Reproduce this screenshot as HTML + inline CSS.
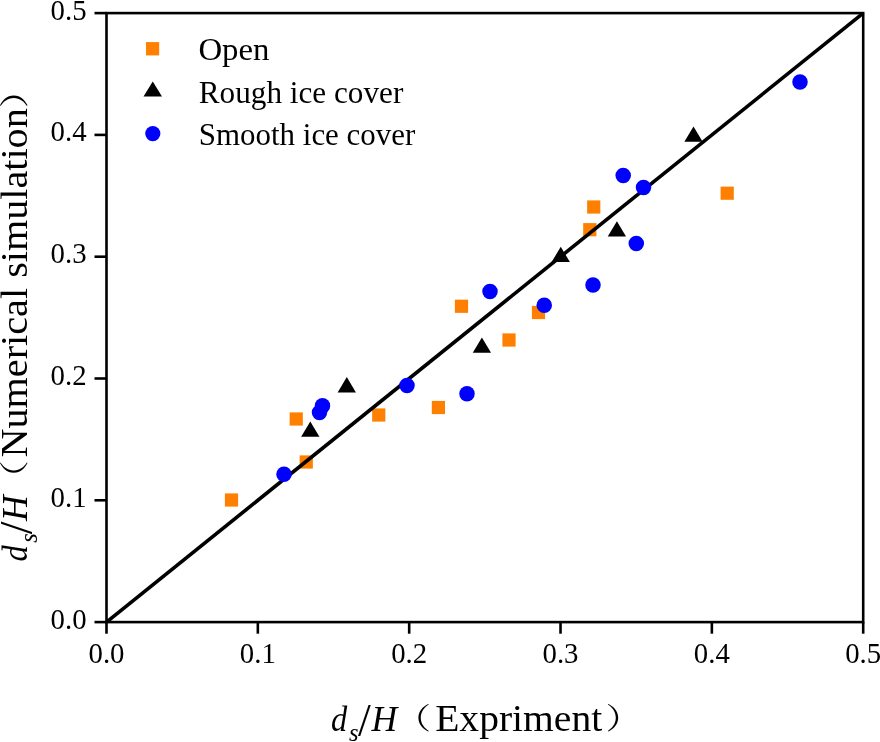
<!DOCTYPE html>
<html lang="en"><head><meta charset="utf-8"><title>Scour depth: numerical simulation vs experiment</title>
<style>
html,body{margin:0;padding:0;background:#fff;}
body{width:880px;height:742px;overflow:hidden;}
svg{display:block;}
.t{font-family:"Liberation Serif","Noto Serif CJK SC",serif;fill:#000;}
.c{font-family:"Liberation Serif","Noto Serif CJK SC",serif;fill:#000;}
.i{font-style:italic;}
</style></head><body>
<svg width="880" height="742" viewBox="0 0 880 742">
<rect x="0" y="0" width="880" height="742" fill="#fff"/>
<g fill="#ff8000">
<rect x="224.90" y="493.40" width="13.2" height="13.2"/>
<rect x="289.65" y="412.40" width="13.2" height="13.2"/>
<rect x="299.65" y="455.40" width="13.2" height="13.2"/>
<rect x="372.15" y="408.40" width="13.2" height="13.2"/>
<rect x="431.80" y="400.90" width="13.2" height="13.2"/>
<rect x="454.90" y="299.65" width="13.2" height="13.2"/>
<rect x="502.40" y="333.40" width="13.2" height="13.2"/>
<rect x="531.90" y="305.90" width="13.2" height="13.2"/>
<rect x="583.20" y="223.10" width="13.2" height="13.2"/>
<rect x="587.15" y="200.40" width="13.2" height="13.2"/>
<rect x="720.60" y="186.60" width="13.2" height="13.2"/>
</g>
<g fill="#000">
<polygon points="310.30,421.45 319.45,436.75 301.15,436.75"/>
<polygon points="346.80,377.10 355.95,392.40 337.65,392.40"/>
<polygon points="481.90,337.40 491.05,352.70 472.75,352.70"/>
<polygon points="560.75,246.80 569.90,262.10 551.60,262.10"/>
<polygon points="616.90,221.30 626.05,236.60 607.75,236.60"/>
<polygon points="693.50,126.40 702.65,141.70 684.35,141.70"/>
</g>
<line x1="106.5" y1="622.1" x2="863.2" y2="13.1" stroke="#000" stroke-width="3.6"/>
<g fill="#0000ff">
<circle cx="284.00" cy="474.25" r="7.75"/>
<circle cx="319.50" cy="412.50" r="7.75"/>
<circle cx="322.50" cy="405.75" r="7.75"/>
<circle cx="407.00" cy="385.50" r="7.75"/>
<circle cx="467.00" cy="393.80" r="7.75"/>
<circle cx="490.00" cy="291.50" r="7.75"/>
<circle cx="544.25" cy="305.25" r="7.75"/>
<circle cx="593.00" cy="285.00" r="7.75"/>
<circle cx="623.20" cy="175.40" r="7.75"/>
<circle cx="643.50" cy="187.60" r="7.75"/>
<circle cx="636.30" cy="243.40" r="7.75"/>
<circle cx="800.00" cy="82.10" r="7.75"/>
</g>
<rect x="106.5" y="13.1" width="756.70" height="609.00" fill="none" stroke="#000" stroke-width="2.6"/>
<g stroke="#000" stroke-width="2.6">
<line x1="106.50" y1="622.1" x2="106.50" y2="633.70"/>
<line x1="106.5" y1="622.10" x2="94.50" y2="622.10"/>
<line x1="257.84" y1="622.1" x2="257.84" y2="633.70"/>
<line x1="106.5" y1="500.30" x2="94.50" y2="500.30"/>
<line x1="409.18" y1="622.1" x2="409.18" y2="633.70"/>
<line x1="106.5" y1="378.50" x2="94.50" y2="378.50"/>
<line x1="560.52" y1="622.1" x2="560.52" y2="633.70"/>
<line x1="106.5" y1="256.70" x2="94.50" y2="256.70"/>
<line x1="711.86" y1="622.1" x2="711.86" y2="633.70"/>
<line x1="106.5" y1="134.90" x2="94.50" y2="134.90"/>
<line x1="863.20" y1="622.1" x2="863.20" y2="633.70"/>
<line x1="106.5" y1="13.10" x2="94.50" y2="13.10"/>
</g>
<g class="t" font-size="30.4">
<text x="88.50" y="662.6" textLength="36.0" lengthAdjust="spacingAndGlyphs">0.0</text>
<text x="239.84" y="662.6" textLength="36.0" lengthAdjust="spacingAndGlyphs">0.1</text>
<text x="391.18" y="662.6" textLength="36.0" lengthAdjust="spacingAndGlyphs">0.2</text>
<text x="542.52" y="662.6" textLength="36.0" lengthAdjust="spacingAndGlyphs">0.3</text>
<text x="693.86" y="662.6" textLength="36.0" lengthAdjust="spacingAndGlyphs">0.4</text>
<text x="845.20" y="662.6" textLength="36.0" lengthAdjust="spacingAndGlyphs">0.5</text>
<text x="50.60" y="628.50" textLength="36.0" lengthAdjust="spacingAndGlyphs">0.0</text>
<text x="50.60" y="506.70" textLength="36.0" lengthAdjust="spacingAndGlyphs">0.1</text>
<text x="50.60" y="384.90" textLength="36.0" lengthAdjust="spacingAndGlyphs">0.2</text>
<text x="50.60" y="263.10" textLength="36.0" lengthAdjust="spacingAndGlyphs">0.3</text>
<text x="50.60" y="141.30" textLength="36.0" lengthAdjust="spacingAndGlyphs">0.4</text>
<text x="50.60" y="19.50" textLength="36.0" lengthAdjust="spacingAndGlyphs">0.5</text>
</g>
<g>
<rect x="146" y="42.1" width="13.2" height="13.3" fill="#ff8000"/>
<polygon points="152.75,81.4 162,96.4 143.5,96.4" fill="#000"/>
<circle cx="152.8" cy="133.6" r="7.6" fill="#0000ff"/>
</g>
<g class="t" font-size="30.6">
<text x="198.4" y="60.2" textLength="71" lengthAdjust="spacingAndGlyphs">Open</text>
<text x="198.8" y="103.3" textLength="204.5" lengthAdjust="spacingAndGlyphs">Rough ice cover</text>
<text x="198.8" y="145.3" textLength="216.5" lengthAdjust="spacingAndGlyphs">Smooth ice cover</text>
</g>
<g transform="translate(332.4,731.4)">
<text class="t i" font-size="36.5" x="-1.4" y="0" textLength="16.2" lengthAdjust="spacingAndGlyphs">d</text>
<text class="t i" font-size="24.5" x="16.7" y="9.8">s</text>
<text class="t" font-size="45.8" x="25.7" y="4.6">/</text>
<text class="t i" font-size="36.5" x="39.1" y="0" textLength="25.7" lengthAdjust="spacingAndGlyphs">H</text>
<text class="c" font-size="29.4" transform="translate(62.4,-2.05) scale(1.237,1)">（</text>
<text class="t" font-size="37.3" x="102.8" y="0" textLength="167" lengthAdjust="spacingAndGlyphs">Expriment</text>
<text class="c" font-size="29.4" transform="translate(273.2,-2.05) scale(1.237,1)">）</text>
</g>
<g transform="translate(27,560) rotate(-90)">
<text class="t i" font-size="36.5" x="-1.4" y="0" textLength="16.2" lengthAdjust="spacingAndGlyphs">d</text>
<text class="t i" font-size="24.5" x="17.3" y="9.8">s</text>
<text class="t" font-size="45.8" x="25.7" y="4.6">/</text>
<text class="t i" font-size="36.5" x="39.1" y="0" textLength="25.7" lengthAdjust="spacingAndGlyphs">H</text>
<text class="c" font-size="29.4" transform="translate(63.5,-2.05) scale(1.237,1)">（</text>
<text class="t" font-size="37.3" x="102.5" y="0" textLength="349.3" lengthAdjust="spacingAndGlyphs">Numerical simulation</text>
<text class="c" font-size="29.4" transform="translate(451.8,-2.05) scale(1.237,1)">）</text>
</g>
</svg>
</body></html>
